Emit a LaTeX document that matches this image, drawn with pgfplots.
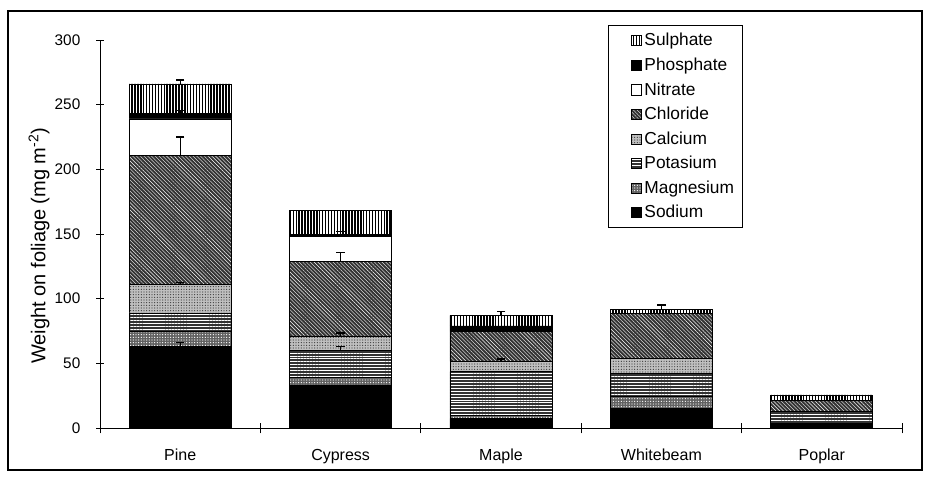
\documentclass[border=0pt]{standalone}
\usepackage{pgfplots}
\pgfplotsset{compat=1.18}
\usepackage{pgfplotstable}
\usetikzlibrary{patterns,patterns.meta}
\usepackage{fontspec}
\setmainfont{Liberation Sans}

\pgfplotstableread{
x Sodium Magnesium Potasium Calcium Chloride Nitrate Phosphate Sulphate
0 63  12  14   22   100  28 4   23
1 33  6   21   11   58   19 1.5 19
2 7.5 2.5 33.5 8    23.5 0  4   8
3 15.3 9  18   11.6 35   0  0   3
4 3.6 0   9    0    9    0  0   4
}\datatable

% error bars: x, top end of bar, length
\pgfplotstableread{
x top e
0 269 3
0 245.5 2.5
0 225 14
0 112.5 1.5
0 66 3
1 152 2.5
1 135.5 6
1 73.3 2
1 63 2.5
2 90 3
2 53.5 2
3 95 3
}\errtable

\begin{document}
\begin{tikzpicture}
\path[use as bounding box] (0pt,0pt) rectangle (697.5pt,357pt);
\draw[line width=1.3pt] (6pt,4.5pt) rectangle (691.5pt,348.75pt);
\begin{axis}[
  at={(75pt,36pt)}, anchor=south west,
  scale only axis, width=601.5pt, height=291pt,
  ybar stacked, bar width=0.636,
  xmin=-0.5, xmax=4.5, ymin=0, ymax=300,
  axis x line=bottom, axis y line=left,
  axis line style={-, line width=0.6pt},
  xtick={0,...,4},
  xticklabels={Pine,Cypress,Maple,Whitebeam,Poplar},
  major x tick style={draw=none},
  minor xtick={-0.5,0.5,...,4.5},
  minor tick length=8pt,
  major tick length=5.5pt,
  tick align=center,
  tick style={line width=0.6pt, black},
  ytick={0,50,...,300},
  /pgf/number format/assume math mode=true,
  xticklabel style={font=\fontsize{12}{14}\selectfont, yshift=-9.5pt},
  yticklabel style={font=\fontsize{11.5}{13}\selectfont, xshift=-8.5pt},
  ylabel={Weight on foliage (mg m\textsuperscript{-2})},
  every axis y label/.style={at={(axis description cs:-0.076,0.47)}, rotate=90, anchor=center, font=\fontsize{15}{17}\selectfont},
  reverse legend,
  legend image code/.code={\path (0pt,0pt); \draw[#1, line width=0.4pt] (13pt,-3.8pt) rectangle (20.6pt,3.8pt);},
  legend style={at={(0.6334,1.0387)}, anchor=north west, draw=black, line width=0.6pt,
    font=\fontsize{13}{15}\selectfont, row sep=3.5pt, inner sep=4pt,
    legend cell align=left},
]
\addplot[draw=black, line width=0.5pt, fill=black] table[x=x,y=Sodium]{\datatable};
\addlegendentry{Sodium}
\addplot[draw=black, line width=0.5pt, fill=black!62, postaction={pattern={Dots[distance=2pt,radius=0.45pt]}, pattern color=white}] table[x=x,y=Magnesium]{\datatable};
\addlegendentry{Magnesium}
\addplot[draw=black, line width=0.5pt, fill=black!80, postaction={pattern={Lines[angle=0,distance=2.2pt,line width=0.35pt]}, pattern color=white}] table[x=x,y=Potasium]{\datatable};
\addlegendentry{Potasium}
\addplot[draw=black, line width=0.5pt, fill=black!25, postaction={pattern={Dots[distance=2pt,radius=0.45pt]}, pattern color=black!75}] table[x=x,y=Calcium]{\datatable};
\addlegendentry{Calcium}
\addplot[draw=black, line width=0.5pt, fill=black!80, postaction={pattern={Lines[angle=-45,distance=2pt,line width=0.3pt]}, pattern color=white}] table[x=x,y=Chloride]{\datatable};
\addlegendentry{Chloride}
\addplot[draw=black, line width=0.5pt, fill=white] table[x=x,y=Nitrate]{\datatable};
\addlegendentry{Nitrate}
\addplot[draw=black, line width=0.5pt, fill=black] table[x=x,y=Phosphate]{\datatable};
\addlegendentry{Phosphate}
\addplot[draw=black, line width=0.5pt, fill=white, postaction={pattern={Lines[angle=90,distance=2.2pt,line width=1.1pt]}, pattern color=black}] table[x=x,y=Sulphate]{\datatable};
\addlegendentry{Sulphate}
\end{axis}
\begin{axis}[
  at={(75pt,36pt)}, anchor=south west,
  scale only axis, width=601.5pt, height=291pt,
  xmin=-0.5, xmax=4.5, ymin=0, ymax=300,
  hide axis,
]
\addplot[black, line width=1.1pt, only marks, mark=-, mark size=3.2pt,
  error bars/.cd, y dir=minus, y explicit, error mark=none,
  error bar style={black, line width=1pt}]
  table[x=x, y=top, y error=e]{\errtable};
\end{axis}
\end{tikzpicture}
\end{document}
